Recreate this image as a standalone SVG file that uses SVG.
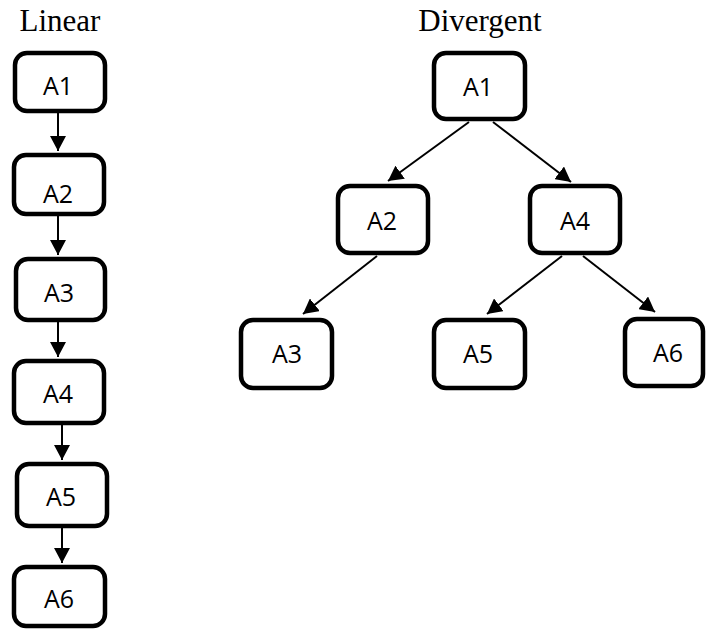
<svg xmlns="http://www.w3.org/2000/svg" width="707" height="630" viewBox="0 0 707 630">
<style>
.box{fill:#fff;stroke:#000;stroke-width:4.5}
.lbl{font-family:"Open Sans","Liberation Sans",sans-serif;font-size:25px;text-anchor:middle;fill:#000}
.title{font-family:"Liberation Serif","Times New Roman",serif;font-size:31px;text-anchor:middle;fill:#000}
.con{stroke:#000;stroke-width:2;fill:none;marker-end:url(#ah)}
</style>
<defs>
<marker id="ah" markerUnits="userSpaceOnUse" markerWidth="16" markerHeight="16" refX="15" refY="8" orient="auto">
<path d="M0,0 L15,8 L0,16 z" fill="#000"/>
</marker>
</defs>
<rect width="707" height="630" fill="#fff"/>
<text class="title" x="60" y="31">Linear</text>
<text class="title" x="480" y="31">Divergent</text>
<g id="connectors">
<line class="con" x1="58" y1="113" x2="58" y2="151"/>
<line class="con" x1="58" y1="216" x2="58" y2="255"/>
<line class="con" x1="58" y1="322" x2="58" y2="357"/>
<line class="con" x1="62" y1="425" x2="62" y2="460"/>
<line class="con" x1="62" y1="528" x2="62" y2="563"/>
<line class="con" x1="469" y1="122" x2="388" y2="181"/>
<line class="con" x1="493" y1="122" x2="571" y2="182"/>
<line class="con" x1="377" y1="256" x2="303" y2="314"/>
<line class="con" x1="562" y1="256" x2="487" y2="314"/>
<line class="con" x1="583" y1="256" x2="655" y2="312"/>
</g>
<g id="lin-A1"><rect class="box" x="15" y="53" width="90" height="58" rx="12"/><text class="lbl" x="58" y="95">A1</text></g>
<g id="lin-A2"><rect class="box" x="14" y="155" width="90" height="59" rx="12"/><text class="lbl" x="58" y="203">A2</text></g>
<g id="lin-A3"><rect class="box" x="16" y="259" width="89" height="61" rx="12"/><text class="lbl" x="59" y="301.5">A3</text></g>
<g id="lin-A4"><rect class="box" x="14" y="361" width="90" height="62" rx="12"/><text class="lbl" x="58" y="403">A4</text></g>
<g id="lin-A5"><rect class="box" x="17" y="464" width="90" height="62" rx="12"/><text class="lbl" x="61" y="506">A5</text></g>
<g id="lin-A6"><rect class="box" x="14" y="567" width="91" height="59" rx="12"/><text class="lbl" x="59" y="608">A6</text></g>
<g id="div-A1"><rect class="box" x="434" y="53" width="91" height="66" rx="12"/><text class="lbl" x="478" y="96">A1</text></g>
<g id="div-A2"><rect class="box" x="338" y="186" width="90" height="67" rx="12"/><text class="lbl" x="382" y="230">A2</text></g>
<g id="div-A4"><rect class="box" x="530" y="186" width="90" height="67" rx="12"/><text class="lbl" x="575" y="230">A4</text></g>
<g id="div-A3"><rect class="box" x="241" y="320" width="91" height="68" rx="12"/><text class="lbl" x="287" y="363">A3</text></g>
<g id="div-A5"><rect class="box" x="434" y="320" width="91" height="68" rx="12"/><text class="lbl" x="478" y="363">A5</text></g>
<g id="div-A6"><rect class="box" x="625" y="319" width="78" height="67" rx="12"/><text class="lbl" x="668" y="362">A6</text></g>
</svg>
